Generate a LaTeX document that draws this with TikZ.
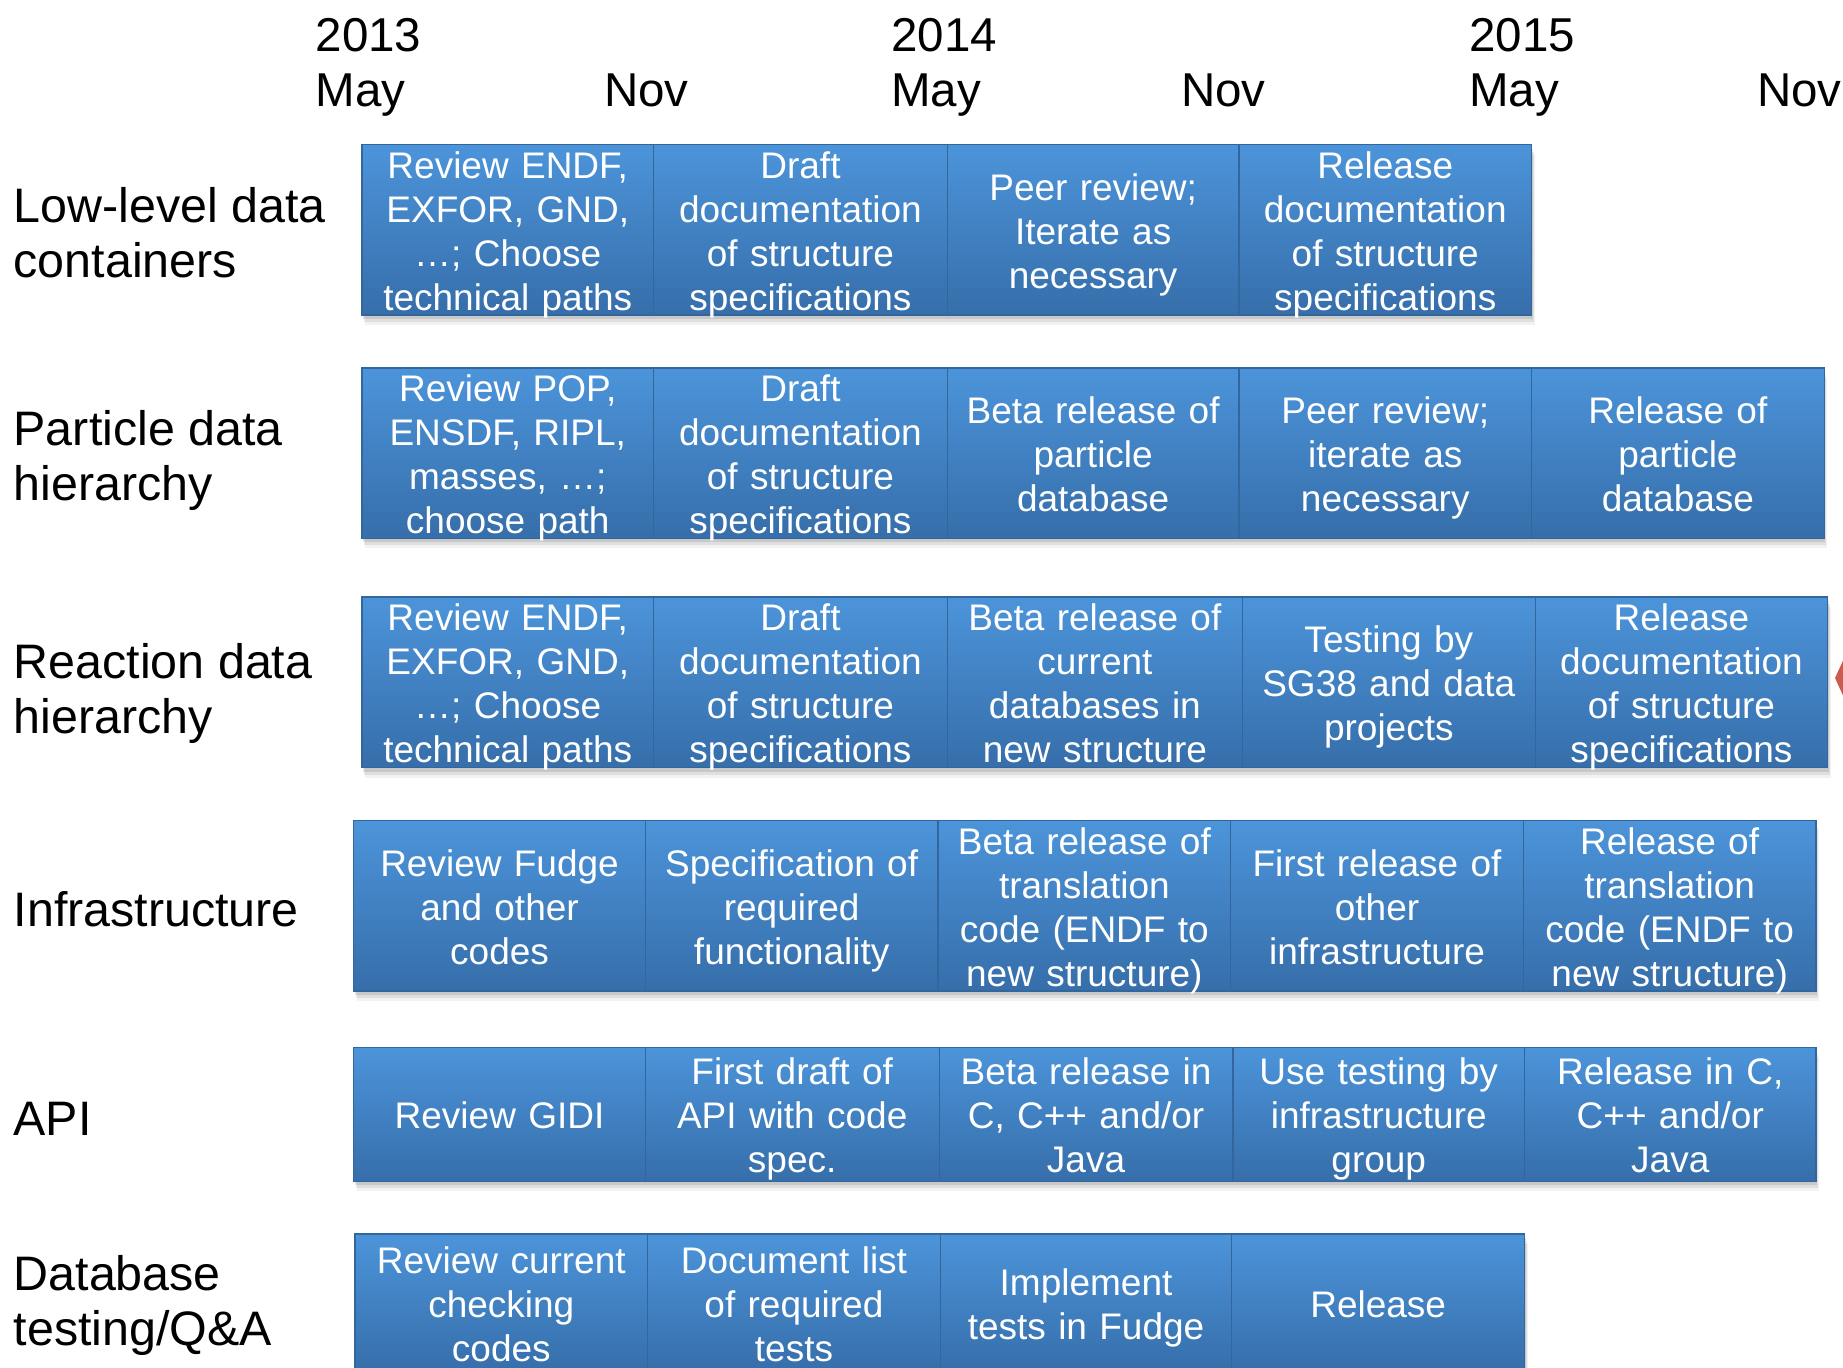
\documentclass[tikz,border=0pt]{standalone}
\usepackage{fontspec}
\setmainfont{Liberation Sans}
\usetikzlibrary{shadows}
\definecolor{boxtop}{RGB}{76,148,218}
\definecolor{boxbot}{RGB}{54,110,170}
\definecolor{boxline}{RGB}{52,102,158}
\definecolor{redmark}{RGB}{205,90,78}
\newcommand{\boxfont}{\fontsize{37}{44}\selectfont}
\newcommand{\labelfont}{\fontsize{48.4}{55}\selectfont}
\newcommand{\timefont}{\fontsize{47.5}{55}\selectfont}
\newcommand{\tb}[7]{\node[task, #6, minimum width=#4pt, minimum height=#5pt] (#1) at (#2,#3) {#7};}
\begin{document}
\begin{tikzpicture}[x=1pt,y=-1pt,
  task/.style={draw=boxline, line width=1.2pt, top color=boxtop, bottom color=boxbot,
    text=white, font=\boxfont, align=center, text width=282pt,
    inner sep=0pt, outer sep=0pt, anchor=north west,
    general shadow={fill=black, opacity=0.05, shadow xshift=3pt, shadow yshift=-10pt},
    general shadow={fill=black, opacity=0.08, shadow xshift=2pt, shadow yshift=-7pt},
    general shadow={fill=black, opacity=0.10, shadow xshift=1pt, shadow yshift=-4pt}},
  one/.style={text height=32.5pt, text depth=3.5pt},
  two/.style={text height=32.5pt, text depth=47.5pt},
  three/.style={text height=32.5pt, text depth=91.5pt},
  four/.style={text height=32.5pt, text depth=135.5pt},
  rowlabel/.style={font=\labelfont, align=left, anchor=west, inner sep=0pt},
  timelabel/.style={font=\timefont, anchor=base west, inner sep=0pt}]
\useasboundingbox (0,0) rectangle (1843,1367);
\clip (0,0) rectangle (1843,1367);

% time axis
\node[timelabel] (y2013) at (315.5,51.7) {2013};
\node[timelabel] (m1) at (315.5,106.7) {May};
\node[timelabel] (m2) at (604,106.7) {Nov};
\node[timelabel] (y2014) at (891,51.7) {2014};
\node[timelabel] (m3) at (891,106.7) {May};
\node[timelabel] (m4) at (1181,106.7) {Nov};
\node[timelabel] (y2015) at (1469,51.7) {2015};
\node[timelabel] (m5) at (1469,106.7) {May};
\node[timelabel] (m6) at (1757,106.7) {Nov};

% row labels
\node[rowlabel] (l1) at (13.5,233) {Low-level data\\containers};
\node[rowlabel] (l2) at (13.5,460) {Particle data\\hierarchy};
\node[rowlabel] (l3) at (13.5,693) {Reaction data\\hierarchy};
\node[rowlabel] (l4) at (13.5,909.5) {Infrastructure};
\node[rowlabel] (l5) at (13.5,1119) {API};
\node[rowlabel] (l6) at (13.5,1305) {Database\\testing/Q\&A};

% row 1
\tb{a1}{362}{144.6}{291.5}{170.4}{four}{Review ENDF,\\EXFOR, GND,\\…; Choose\\technical paths}
\tb{a2}{653.5}{144.6}{293.9}{170.4}{four}{Draft\\documentation\\of structure\\specifications}
\tb{a3}{947.4}{144.6}{291.5}{170.4}{three}{Peer review;\\Iterate as\\necessary}
\tb{a4}{1238.9}{144.6}{292.7}{170.4}{four}{Release\\documentation\\of structure\\specifications}

% row 2
\tb{b1}{362}{367.9}{291.5}{170.4}{four}{Review POP,\\ENSDF, RIPL,\\masses, …;\\choose path}
\tb{b2}{653.5}{367.9}{293.9}{170.4}{four}{Draft\\documentation\\of structure\\specifications}
\tb{b3}{947.4}{367.9}{291.5}{170.4}{three}{Beta release of\\particle\\database}
\tb{b4}{1238.9}{367.9}{292.7}{170.4}{three}{Peer review;\\iterate as\\necessary}
\tb{b5}{1531.6}{367.9}{292.6}{170.4}{three}{Release of\\particle\\database}

% row 3
\tb{c1}{362}{597}{291.5}{170.5}{four}{Review ENDF,\\EXFOR, GND,\\…; Choose\\technical paths}
\tb{c2}{653.5}{597}{293.9}{170.5}{four}{Draft\\documentation\\of structure\\specifications}
\tb{c3}{947.4}{597}{295}{170.5}{four}{Beta release of\\current\\databases in\\new structure}
\tb{c4}{1242.4}{597}{292.8}{170.5}{three}{Testing by\\SG38 and data\\projects}
\tb{c5}{1535.2}{597}{292.5}{170.5}{four}{Release\\documentation\\of structure\\specifications}

% row 4
\tb{d1}{353.8}{820.4}{291.5}{170.5}{three}{Review Fudge\\and other\\codes}
\tb{d2}{645.3}{820.4}{292.7}{170.5}{three}{Specification of\\required\\functionality}
\tb{d3}{938}{820.4}{292.7}{170.5}{four}{Beta release of\\translation\\code (ENDF to\\new structure)}
\tb{d4}{1230.7}{820.4}{292.6}{170.5}{three}{First release of\\other\\infrastructure}
\tb{d5}{1523.3}{820.4}{292.7}{170.5}{four}{Release of\\translation\\code (ENDF to\\new structure)}

% row 5
\tb{e1}{353.8}{1047.3}{291.5}{134}{one}{Review GIDI}
\tb{e2}{645.3}{1047.3}{293.8}{134}{three}{First draft of\\API with code\\spec.}
\tb{e3}{939.1}{1047.3}{293.9}{134}{three}{Beta release in\\C, C++ and/or\\Java}
\tb{e4}{1233}{1047.3}{291.5}{134}{three}{Use testing by\\infrastructure\\group}
\tb{e5}{1524.5}{1047.3}{291.5}{134}{three}{Release in C,\\C++ and/or\\Java}

% row 6
\tb{f1}{355}{1234}{292.6}{138}{three}{Review current\\checking\\codes}
\tb{f2}{647.6}{1234}{292.7}{138}{three}{Document list\\of required\\tests}
\tb{f3}{940.3}{1234}{291.5}{138}{two}{Implement\\tests in Fudge}
\tb{f4}{1231.8}{1234}{292.7}{138}{one}{Release}

% partial red mark at right edge
\fill[redmark] (1835,678) -- (1846,654) -- (1846,702) -- cycle;
\end{tikzpicture}
\end{document}
